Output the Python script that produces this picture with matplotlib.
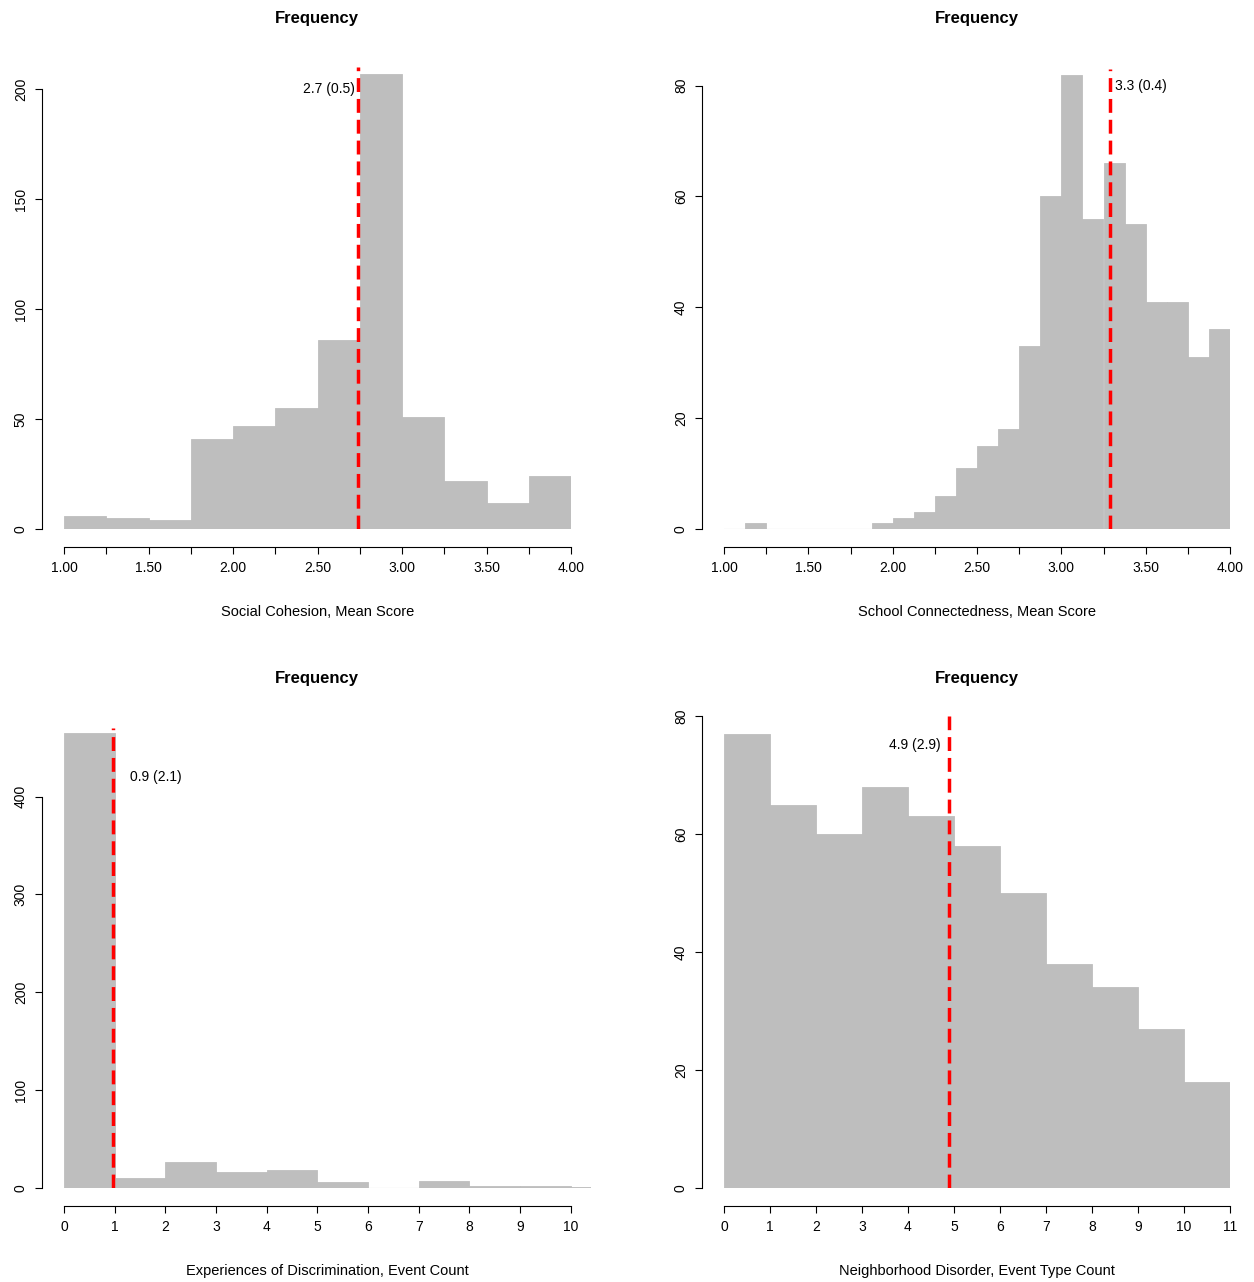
import numpy as np
import matplotlib
matplotlib.use("Agg")
import matplotlib.pyplot as plt

plt.rcParams['font.family'] = ['Liberation Sans', 'DejaVu Sans']

# panel data: bin edges + counts
cohesion_edges = np.arange(1.0, 4.01, 0.25)
cohesion_counts = [6, 5, 4, 41, 47, 55, 86, 207, 51, 22, 12, 24]

school_edges = np.arange(1.0, 4.001, 0.125)
school_counts = [0, 1, 0, 0, 0, 0, 0, 1, 2, 3, 6, 11, 15, 18, 33, 60, 82, 56, 66, 55, 41, 41, 31, 36]

discrim_edges = [0, 1, 2, 3, 4, 5, 6, 7, 8, 9, 10, 10.4]
discrim_counts = [465, 10, 27, 16, 18, 6, 0, 7, 2, 2, 1]

disorder_edges = np.arange(0, 12, 1)
disorder_counts = [77, 65, 60, 68, 63, 58, 50, 38, 34, 27, 18]

means = [2.74, 3.29, 0.97, 4.89]
labels = ["2.7 (0.5)", "3.3 (0.4)", "0.9 (2.1)", "4.9 (2.9)"]
xlabels = ["Social Cohesion, Mean Score", "School Connectedness, Mean Score",
           "Experiences of Discrimination, Event Count", "Neighborhood Disorder, Event Type Count"]

W, H = 1254, 1282
fig = plt.figure(figsize=(W / 100, H / 100), dpi=100)

def px_axes(x0, x1, ytop, ybot):
    return fig.add_axes([x0 / W, 1 - ybot / H, (x1 - x0) / W, (ybot - ytop) / H])

panels = [
    dict(box=(64, 571, 67, 529), edges=cohesion_edges, counts=cohesion_counts,
         xlim=(1, 4), ylim=(0, 210), xt=np.arange(1, 4.01, 0.25),
         xtl=["1.00", "", "1.50", "", "2.00", "", "2.50", "", "3.00", "", "3.50", "", "4.00"],
         yt=[0, 50, 100, 150, 200], txt=(2.72, 200, 'right'), tx=317),
    dict(box=(724, 1230, 69, 529), edges=school_edges, counts=school_counts,
         xlim=(1, 4), ylim=(0, 83), xt=np.arange(1, 4.01, 0.25),
         xtl=["1.00", "", "1.50", "", "2.00", "", "2.50", "", "3.00", "", "3.50", "", "4.00"],
         yt=[0, 20, 40, 60, 80], txt=(3.32, 80, 'left'), tx=977),
    dict(box=(64, 591, 728, 1188), edges=discrim_edges, counts=discrim_counts,
         xlim=(0, 10.4), ylim=(0, 470), xt=np.arange(0, 11),
         xtl=[str(i) for i in range(11)],
         yt=[0, 100, 200, 300, 400], txt=(1.3, 420, 'left'), tx=317),
    dict(box=(724, 1230, 716, 1188), edges=disorder_edges, counts=disorder_counts,
         xlim=(0, 11), ylim=(0, 80), xt=np.arange(0, 12),
         xtl=[str(i) for i in range(12)],
         yt=[0, 20, 40, 60, 80], txt=(4.7, 75, 'right'), tx=977),
]

for i, p in enumerate(panels):
    ax = px_axes(*p['box'])
    e = np.asarray(p['edges'], dtype=float)
    ax.bar(e[:-1], p['counts'], width=np.diff(e), align='edge', color='#bebebe',
           edgecolor='#bebebe', linewidth=0.6)
    ax.axhline(0, xmin=0, xmax=1, color='#bebebe', lw=0.8)
    ax.axvline(means[i], ymax=1.0, color='red', lw=2.5, ls=(0, (4, 2)), clip_on=True)
    tx, ty, ha = p['txt']
    ax.text(tx, ty, labels[i], ha=ha, va='center', fontsize=10)
    ax.set_xlim(*p['xlim'])
    ax.set_ylim(*p['ylim'])
    for s in ['top', 'right']:
        ax.spines[s].set_visible(False)
    ax.spines['left'].set_position(('outward', 16))
    ax.spines['bottom'].set_position(('outward', 13))
    ax.spines['left'].set_bounds(p['yt'][0], p['yt'][-1])
    ax.spines['bottom'].set_bounds(p['xt'][0], p['xt'][-1])
    ax.set_xticks(p['xt'])
    ax.set_xticklabels(p['xtl'], fontsize=10)
    ax.set_yticks(p['yt'])
    ax.set_yticklabels([str(v) for v in p['yt']], fontsize=10, rotation=90, va='center')
    ax.tick_params(length=5, pad=5)
    ax.set_xlabel(xlabels[i], fontsize=10.5, labelpad=22)
    ytitle = 19 if i < 2 else 679
    fig.text(p['tx'] / W, 1 - ytitle / H, "Frequency", ha='center', va='center',
             fontsize=12, fontweight='bold')

fig.savefig("out.png", dpi=100)
